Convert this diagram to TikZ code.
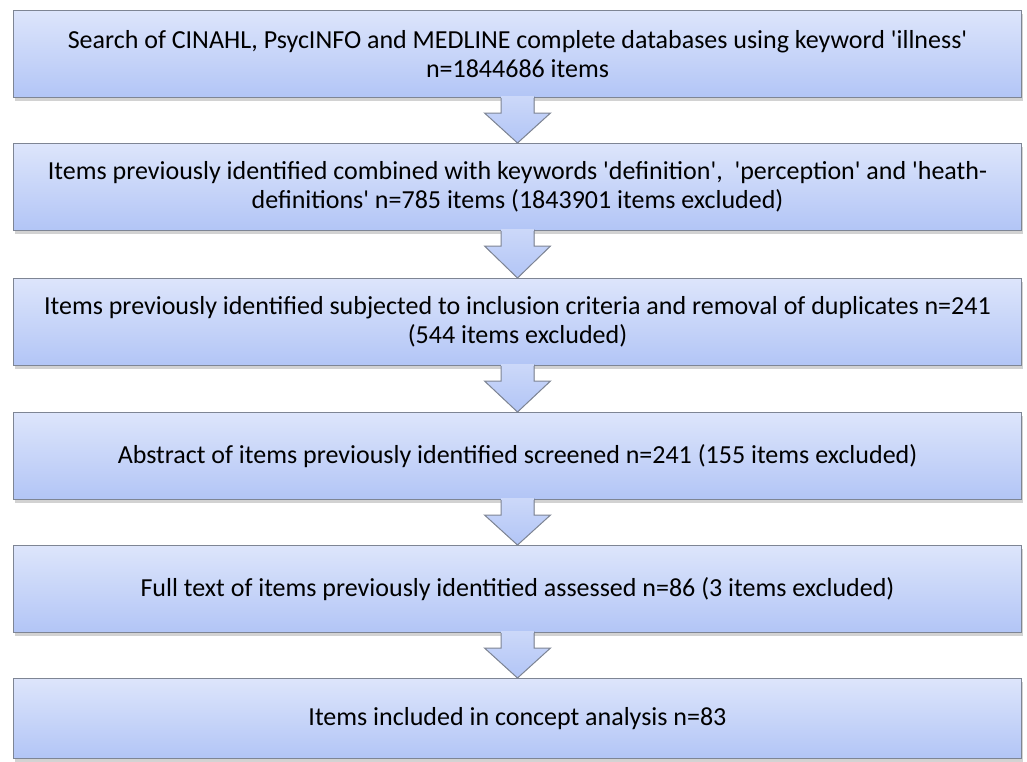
\documentclass[tikz,border=0pt]{standalone}
\usepackage{fontspec}
\setmainfont{Carlito}
\usetikzlibrary{calc,shadows}
\definecolor{boxtop}{HTML}{DDE5FB}
\definecolor{boxbot}{HTML}{B2C5F6}
\definecolor{edge}{HTML}{7E8594}
\newcommand{\q}{\textquotesingle}
\tikzset{
  stagebox/.style={draw=edge, line width=1pt, top color=boxtop, bottom color=boxbot,
    minimum width=1008pt, minimum height=87pt, anchor=north west, inner sep=0pt,
    align=center, font=\fontsize{26pt}{29.5pt}\selectfont, text=black,
    drop shadow={opacity=0.35, shadow xshift=1pt, shadow yshift=-3pt}},
  arrowfill/.style={top color=boxtop!60!boxbot, bottom color=boxbot},
  arrowline/.style={draw=edge, line width=1pt, line join=miter},
}
\newcommand{\flowarrow}[2]{%
  \fill[arrowfill]
    ($(#1.south)+(-16.5pt,2pt)$) -- ($(#1.south)+(-16.5pt,-15pt)$)
    -- ($(#1.south)+(-33pt,-15pt)$) -- (#2.north)
    -- ($(#1.south)+(33pt,-15pt)$) -- ($(#1.south)+(16.5pt,-15pt)$)
    -- ($(#1.south)+(16.5pt,2pt)$) -- cycle;
  \draw[arrowline]
    ($(#1.south)+(-16.5pt,0pt)$) -- ($(#1.south)+(-16.5pt,-15pt)$)
    -- ($(#1.south)+(-33pt,-15pt)$) -- (#2.north)
    -- ($(#1.south)+(33pt,-15pt)$) -- ($(#1.south)+(16.5pt,-15pt)$)
    -- ($(#1.south)+(16.5pt,0pt)$);
}
\begin{document}
\begin{tikzpicture}[x=1pt,y=-1pt]
\useasboundingbox[fill=white] (0,0) rectangle (1027,761);
\node[stagebox] (b1) at (13,10) {Search of CINAHL, PsycINFO and MEDLINE complete databases using keyword \q illness\q\\n=1844686 items};
\node[stagebox] (b2) at (13,143) {Items previously identified combined with keywords \q definition\q,\ \ \q perception\q\ and \q heath-\\definitions\q\ n=785 items (1843901 items excluded)};
\node[stagebox] (b3) at (13,278) {Items previously identified subjected to inclusion criteria and removal of duplicates n=241\\(544 items excluded)};
\node[stagebox] (b4) at (13,412) {Abstract of items previously identified screened n=241 (155 items excluded)};
\node[stagebox] (b5) at (13,545) {Full text of items previously identitied assessed n=86 (3 items excluded)};
\node[stagebox, minimum height=80pt] (b6) at (13,678) {Items included in concept analysis n=83};
\flowarrow{b1}{b2}
\flowarrow{b2}{b3}
\flowarrow{b3}{b4}
\flowarrow{b4}{b5}
\flowarrow{b5}{b6}
\end{tikzpicture}
\end{document}
